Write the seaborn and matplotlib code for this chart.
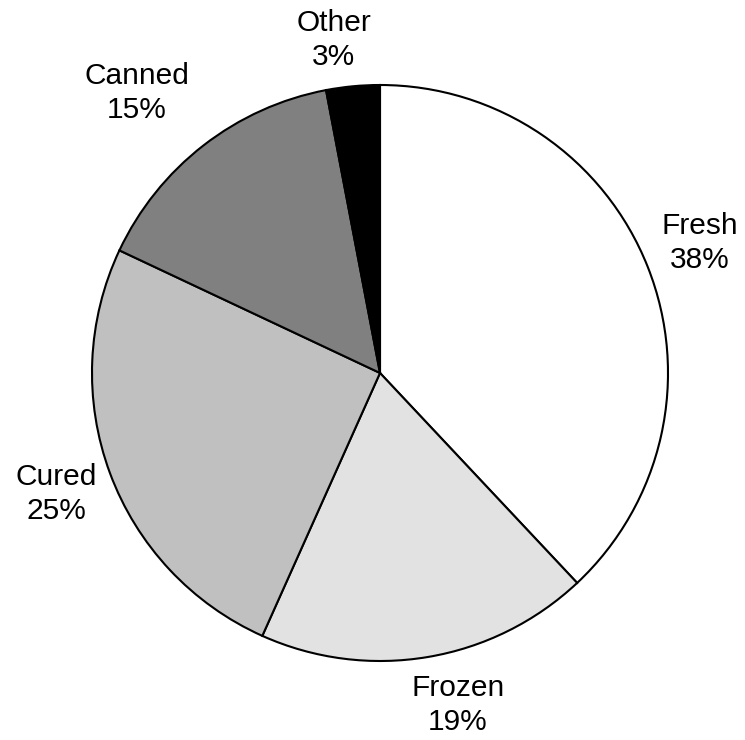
import numpy as np
import seaborn as sns
import matplotlib.pyplot as plt

categories = ["Fresh", "Frozen", "Cured", "Canned", "Other"]
shares = [38, 18.7, 25.3, 15, 3]
slice_colors = ["#ffffff", "#e2e2e2", "#c0c0c0", "#808080", "#000000"]

# label layout (tweaks to sit like the reference)
label_dist = [1.198, 1.184, 1.201, 1.288, 1.167]
label_shift = [0.5, 3.7, 0.2, 3.2, 2.5]

sns.set_theme(style="white")
plt.rcParams["font.family"] = ["Liberation Sans", "DejaVu Sans"]

fig = plt.figure(figsize=(7.45, 7.40), dpi=100)
ax = fig.add_axes([0, 0, 1, 1])

wedges, _ = ax.pie(
    shares,
    colors=slice_colors,
    startangle=90,
    counterclock=False,
    radius=1,
    wedgeprops=dict(edgecolor="black", linewidth=1.5),
)

for w, name, val, d, s in zip(wedges, categories, shares, label_dist, label_shift):
    mid = np.deg2rad((w.theta1 + w.theta2) / 2 + s)
    ax.text(
        d * np.cos(mid),
        d * np.sin(mid),
        f"{name}\n{round(val):d}%",
        ha="center",
        va="center",
        fontsize=21.5,
        linespacing=1.28,
        color="black",
    )

# 288 px per data unit, centre at (380, 373) px
px = 288
ax.set_aspect("auto")
ax.set_xlim(-380 / px, (745 - 380) / px)
ax.set_ylim(-(740 - 373) / px, 373 / px)
ax.axis("off")

fig.savefig("out.png", dpi=100, facecolor="white")
